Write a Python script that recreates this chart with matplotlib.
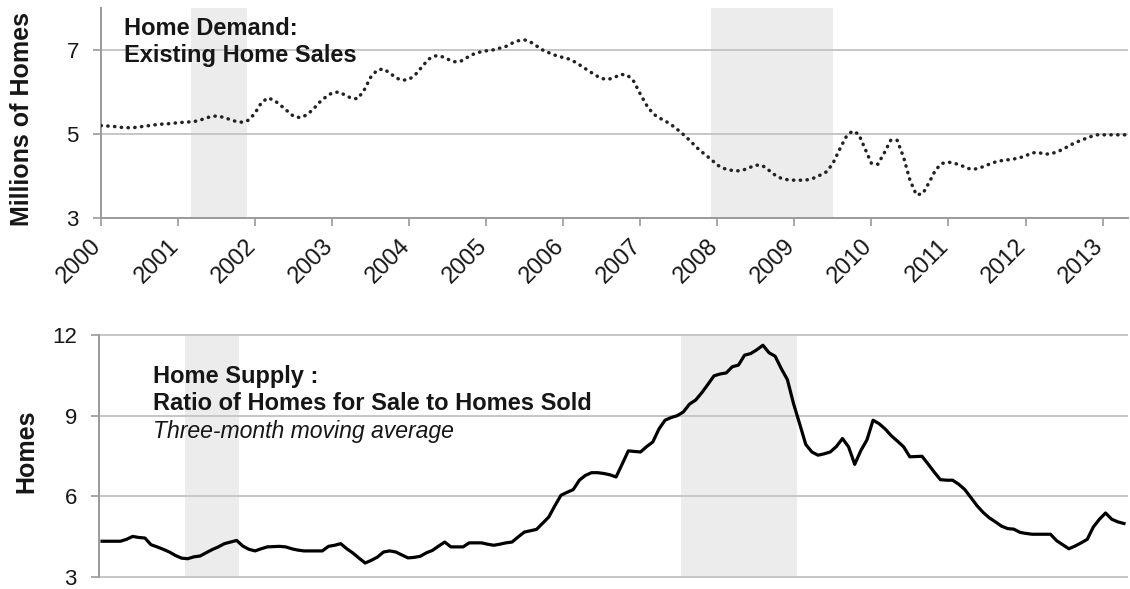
import numpy as np
import matplotlib
matplotlib.use('Agg')
import matplotlib.pyplot as plt
import matplotlib.transforms as mtransforms

plt.rcParams['font.family'] = ['Liberation Sans', 'DejaVu Sans']

# year ticks and recession periods (decimal years)
years = list(range(2000, 2014))
rec_start = [2001.17, 2007.92]
rec_end = [2001.90, 2009.50]

# existing home sales, millions (SAAR), monthly Jan 2000 - May 2013
existing_sales = [
    5.20, 5.19, 5.18, 5.16, 5.15, 5.15, 5.17, 5.19, 5.21, 5.23, 5.24, 5.25,
    5.27, 5.28, 5.29, 5.31, 5.36, 5.41, 5.43, 5.40, 5.35, 5.30, 5.28, 5.33,
    5.50, 5.75, 5.86, 5.80, 5.68, 5.55, 5.42, 5.39, 5.45, 5.58, 5.75, 5.88,
    5.98, 6.00, 5.93, 5.85, 5.84, 6.05, 6.35, 6.52, 6.55, 6.45, 6.33, 6.28,
    6.30, 6.42, 6.60, 6.78, 6.86, 6.85, 6.78, 6.72, 6.73, 6.82, 6.90, 6.95,
    6.98, 7.00, 7.04, 7.08, 7.16, 7.22, 7.24, 7.18, 7.08, 6.98, 6.92, 6.86,
    6.82, 6.78, 6.70, 6.60, 6.50, 6.40, 6.32, 6.30, 6.35, 6.42, 6.40, 6.25,
    5.95, 5.68, 5.48, 5.38, 5.30, 5.20, 5.08, 4.95, 4.80, 4.65, 4.52, 4.40,
    4.26, 4.18, 4.14, 4.12, 4.14, 4.20, 4.26, 4.25, 4.14, 4.02, 3.94, 3.91,
    3.90, 3.90, 3.91, 3.95, 4.02, 4.10, 4.30, 4.62, 4.92, 5.07, 5.00, 4.65,
    4.30, 4.28, 4.55, 4.85, 4.85, 4.45, 3.90, 3.55, 3.58, 3.85, 4.15, 4.30,
    4.33, 4.30, 4.25, 4.18, 4.16, 4.20, 4.26, 4.32, 4.36, 4.38, 4.40, 4.43,
    4.48, 4.55, 4.56, 4.52, 4.53, 4.58, 4.65, 4.74, 4.81, 4.87, 4.93, 4.98,
    4.98, 4.98, 4.98, 4.98, 4.98,
]

# homes for sale / homes sold, 3-month moving average, monthly Jan 2000 - Dec 2013
supply_ratio = [
    4.33, 4.33, 4.33, 4.33, 4.40, 4.51, 4.47, 4.45, 4.20, 4.12, 4.03, 3.93,
    3.80, 3.70, 3.68, 3.75, 3.78, 3.90, 4.02, 4.12, 4.24, 4.30, 4.36, 4.15,
    4.03, 3.97, 4.05, 4.12, 4.13, 4.14, 4.12, 4.05, 4.00, 3.97, 3.97, 3.97,
    3.97, 4.14, 4.18, 4.24, 4.05, 3.89, 3.70, 3.52, 3.62, 3.74, 3.93, 3.97,
    3.93, 3.82, 3.71, 3.73, 3.77, 3.90, 3.99, 4.15, 4.30, 4.12, 4.12, 4.12,
    4.27, 4.27, 4.27, 4.22, 4.18, 4.22, 4.27, 4.30, 4.49, 4.67, 4.72, 4.77,
    5.00, 5.23, 5.65, 6.04, 6.15, 6.25, 6.60, 6.78, 6.88, 6.88, 6.85, 6.80,
    6.72, 7.20, 7.69, 7.67, 7.65, 7.85, 8.02, 8.50, 8.83, 8.93, 9.00, 9.14,
    9.43, 9.58, 9.85, 10.16, 10.48, 10.55, 10.59, 10.82, 10.88, 11.25, 11.31, 11.45,
    11.62, 11.34, 11.21, 10.75, 10.34, 9.45, 8.70, 7.93, 7.65, 7.53, 7.58, 7.65,
    7.85, 8.15, 7.84, 7.19, 7.70, 8.10, 8.83, 8.70, 8.50, 8.25, 8.05, 7.84,
    7.47, 7.48, 7.49, 7.20, 6.90, 6.62, 6.60, 6.60, 6.45, 6.25, 5.95, 5.65,
    5.40, 5.20, 5.05, 4.89, 4.80, 4.78, 4.66, 4.62, 4.59, 4.59, 4.59, 4.59,
    4.35, 4.20, 4.05, 4.15, 4.27, 4.40, 4.86, 5.15, 5.38, 5.15, 5.05, 4.99,
]

W, H = 1130, 589
fig = plt.figure(figsize=(W / 100, H / 100), dpi=100)
ax1 = fig.add_axes([101 / W, 1 - 218 / H, (1128 - 101) / W, 210 / H])
ax2 = fig.add_axes([99 / W, 1 - 577 / H, (1127 - 99) / W, 242 / H])

shade = '#ececec'
grid_c = '#c6c6c6'
spine_c = '#9a9a9a'
txt_c = '#161616'

# --- top panel: existing home sales
x1 = 2000 + np.arange(len(existing_sales)) / 12
for s, e in zip(rec_start, rec_end):
    ax1.axvspan(s, e, color=shade, lw=0, zorder=0)
for v in [5, 7]:
    ax1.axhline(v, color=grid_c, lw=1.4, zorder=1)
ax1.plot(x1, existing_sales, color='#222222', lw=2.5,
         linestyle=(0, (0.1, 1.85)), dash_capstyle='round', zorder=3)
ax1.set_xlim(2000, 2013.33)
ax1.set_ylim(3, 8)
ax1.set_yticks([3, 5, 7])
ax1.set_xticks(years)
ax1.set_xticklabels([str(y) for y in years], rotation=45, ha='right')
ax1.tick_params(axis='both', direction='out', length=6, width=1.2,
                color=spine_c, labelsize=16, labelcolor=txt_c)
ax1.tick_params(axis='y', pad=10)
ax1.tick_params(axis='x', pad=6, labelsize=17)
off = mtransforms.ScaledTranslation(0.05, 0, fig.dpi_scale_trans)
for lab in ax1.get_xticklabels():
    lab.set_transform(lab.get_transform() + off)
for side in ['top', 'right']:
    ax1.spines[side].set_visible(False)
for side in ['left', 'bottom']:
    ax1.spines[side].set_color(spine_c)
    ax1.spines[side].set_linewidth(1.4)

# --- bottom panel: supply ratio
x2 = 2000 + (np.arange(len(supply_ratio)) + 0.5) / 12
for s, e in zip(rec_start, rec_end):
    ax2.axvspan(s, e, color=shade, lw=0, zorder=0)
for v in [3, 6, 9, 12]:
    ax2.axhline(v, color=grid_c, lw=1.4, zorder=1, clip_on=False)
ax2.plot(x2, supply_ratio, color='black', lw=2.3, zorder=3)
ax2.set_xlim(2000, 2014)
ax2.set_ylim(3, 12)
ax2.set_yticks([3, 6, 9, 12])
ax2.set_xticks([])
ax2.tick_params(axis='y', direction='out', length=6, width=1.2,
                color=spine_c, labelsize=16, labelcolor=txt_c, pad=10)
for side in ['top', 'right', 'bottom']:
    ax2.spines[side].set_visible(False)
ax2.spines['left'].set_color(spine_c)
ax2.spines['left'].set_linewidth(1.4)

# --- labels and annotations
fig.text(22 / W, 1 - 119 / H, 'Millions of Homes', rotation=90, ha='center',
         va='center', fontsize=18, fontweight='bold', color=txt_c)
fig.text(26 / W, 1 - 451 / H, 'Homes', rotation=90, ha='center',
         va='center', fontsize=18, fontweight='bold', color=txt_c)

fig.text(124 / W, 1 - 35 / H, 'Home Demand:', fontsize=17,
         fontweight='bold', va='baseline', color=txt_c)
fig.text(124 / W, 1 - 62 / H, 'Existing Home Sales', fontsize=17,
         fontweight='bold', va='baseline', color=txt_c)

fig.text(153 / W, 1 - 383 / H, 'Home Supply :', fontsize=17,
         fontweight='bold', va='baseline', color=txt_c)
fig.text(153 / W, 1 - 410 / H, 'Ratio of Homes for Sale to Homes Sold',
         fontsize=17, fontweight='bold', va='baseline', color=txt_c)
fig.text(153 / W, 1 - 438 / H, 'Three-month moving average', fontsize=16.6,
         style='italic', va='baseline', color=txt_c)

fig.savefig('out.png', dpi=100)
